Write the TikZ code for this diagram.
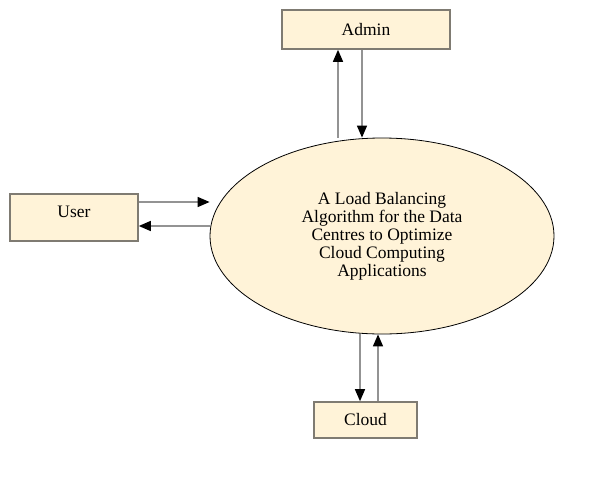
\documentclass[tikz,border=0pt]{standalone}
\usepackage{fontspec}
\setmainfont{Liberation Serif}
\usetikzlibrary{shapes,arrows.meta,positioning}
\definecolor{boxfill}{HTML}{FFF3D8}
\definecolor{boxline}{HTML}{7F7B72}

\begin{document}
\begin{tikzpicture}[
  x=1pt, y=-1pt,
  block/.style={rectangle, draw=boxline, fill=boxfill, line width=1.6pt, font=\fontsize{17.5}{18}\selectfont},
  oval/.style={ellipse, draw, fill=boxfill, line width=0.8pt, align=center, inner sep=0pt,
    minimum width=344pt, minimum height=196pt, font=\fontsize{17.5}{18}\selectfont},
  flow/.style={draw=gray!85, line width=1.4pt, -{Triangle[black, length=12pt, width=10pt]}}
]
\useasboundingbox (0,0) rectangle (594,479);

\node[oval] (lb) at (382, 236) {A Load Balancing\\Algorithm for the Data\\Centres to Optimize\\Cloud Computing\\Applications};
\node[block, minimum width=168pt, minimum height=39pt] (admin) at (366, 29.5) {Admin};
\node[block, minimum width=128pt, minimum height=47pt, text depth=11pt] (user) at (74, 217.5) {User};
\node[block, minimum width=103pt, minimum height=36pt] (cloud) at (365.5, 420) {Cloud};

\draw[flow] ([xshift=-28pt]admin.south |- lb.north) -- ([xshift=-28pt]admin.south);
\draw[flow] ([xshift=-4pt]admin.south) -- ([xshift=-4pt]admin.south |- lb.north);
\draw[flow] ([yshift=15.5pt]user.east) -- ([yshift=15.5pt]user.east -| lb.west);
\draw[flow] ([yshift=-8.5pt]user.east -| lb.west) -- ([yshift=-8.5pt]user.east);
\draw[flow] ([xshift=-5.5pt]cloud.north |- lb.south) -- ([xshift=-5.5pt]cloud.north);
\draw[flow] ([xshift=12.5pt]cloud.north) -- ([xshift=12.5pt]cloud.north |- lb.south);

\end{tikzpicture}
\end{document}
